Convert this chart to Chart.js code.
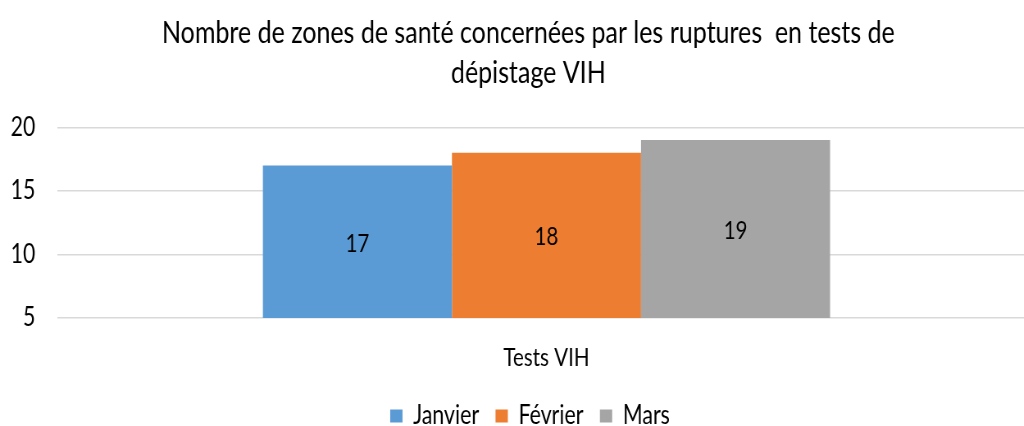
<!DOCTYPE html>
<html>
<head>
<meta charset="utf-8">
<script src="https://cdn.jsdelivr.net/npm/chart.js@4/dist/chart.umd.min.js"></script>
<style>
html,body{margin:0;padding:0;background:#fff;overflow:hidden;width:1024px;height:426px;}
#wrap{position:relative;width:1060px;height:426px;}
#c{width:1060px;height:426px;display:block;}
</style>
</head>
<body>
<div id="wrap"><canvas id="c" width="1293" height="426" style="width:1060px;height:426px"></canvas></div>
<script>
const categories = ["Tests VIH"];
const seriesNames = ["Janvier", "Février", "Mars"];
const janvier = [17];
const fevrier = [18];
const mars = [19];
const yTicks = [5, 10, 15, 20];
const titleLines = ["Nombre de zones de santé concernées par les ruptures  en tests de", "dépistage VIH"];

const FONT = "Lato, 'Open Sans', sans-serif";
const colors = ["#5b9bd5", "#ed7d31", "#a5a5a5"];

const barLabels = {
  id: 'barLabels',
  afterDatasetsDraw(chart) {
    const ctx = chart.ctx;
    const area = chart.chartArea;
    ctx.save();
    ctx.font = "25px " + FONT;
    ctx.fillStyle = "#000";
    ctx.textAlign = "center";
    ctx.textBaseline = "middle";
    chart.data.datasets.forEach((ds, i) => {
      chart.getDatasetMeta(i).data.forEach((bar, j) => {
        const bottom = Math.min(bar.base, area.bottom);
        const top = Math.max(bar.y, area.top);
        ctx.fillText(String(ds.data[j]), bar.x, (top + bottom) / 2 + 2);
      });
    });
    ctx.restore();
  }
};

// shift the title and legend boxes horizontally (the original is centred a bit right of the canvas centre)
const shiftBlocks = {
  id: 'shiftBlocks',
  afterLayout(chart) {
    const t = chart.titleBlock;
    if (t) { t.left += 20; t.right += 20; }
    const l = chart.legend;
    if (l) { l.left += 22; l.right += 22; }
  }
};

new Chart(document.getElementById('c'), {
  type: 'bar',
  data: {
    labels: categories,
    datasets: [
      { label: seriesNames[0], data: janvier, backgroundColor: colors[0] },
      { label: seriesNames[1], data: fevrier, backgroundColor: colors[1] },
      { label: seriesNames[2], data: mars, backgroundColor: colors[2] }
    ]
  },
  options: {
    responsive: false,
    maintainAspectRatio: false,
    animation: false,
    devicePixelRatio: 1,
    layout: { padding: { left: -14, right: 30, top: 0, bottom: -13 } },
    datasets: { bar: { categoryPercentage: 0.58, barPercentage: 1.0 } },
    plugins: {
      title: {
        display: true,
        text: titleLines,
        color: "#000",
        font: { family: FONT, size: 30.5, weight: 'normal', lineHeight: 1.31 },
        padding: { top: 13, bottom: 34.5 }
      },
      legend: {
        position: 'bottom',
        labels: {
          color: "#000",
          font: { family: FONT, size: 26 },
          boxWidth: 15, boxHeight: 13,
          padding: 20
        }
      },
      tooltip: { enabled: false }
    },
    scales: {
      x: {
        grid: { display: false, drawTicks: false },
        border: { display: false },
        ticks: { color: "#000", font: { family: FONT, size: 25 }, padding: 25 },
        afterFit(scale) { scale.height -= 15; }
      },
      y: {
        min: 5, max: 20,
        afterBuildTicks(axis) { axis.ticks = yTicks.map(v => ({ value: v })); },
        grid: { color: "#d9d9d9", lineWidth: 1.5, drawTicks: false },
        border: { display: false },
        ticks: { color: "#000", font: { family: FONT, size: 26 }, padding: 27 }
      }
    }
  },
  plugins: [barLabels, shiftBlocks]
});
</script>
</body>
</html>
